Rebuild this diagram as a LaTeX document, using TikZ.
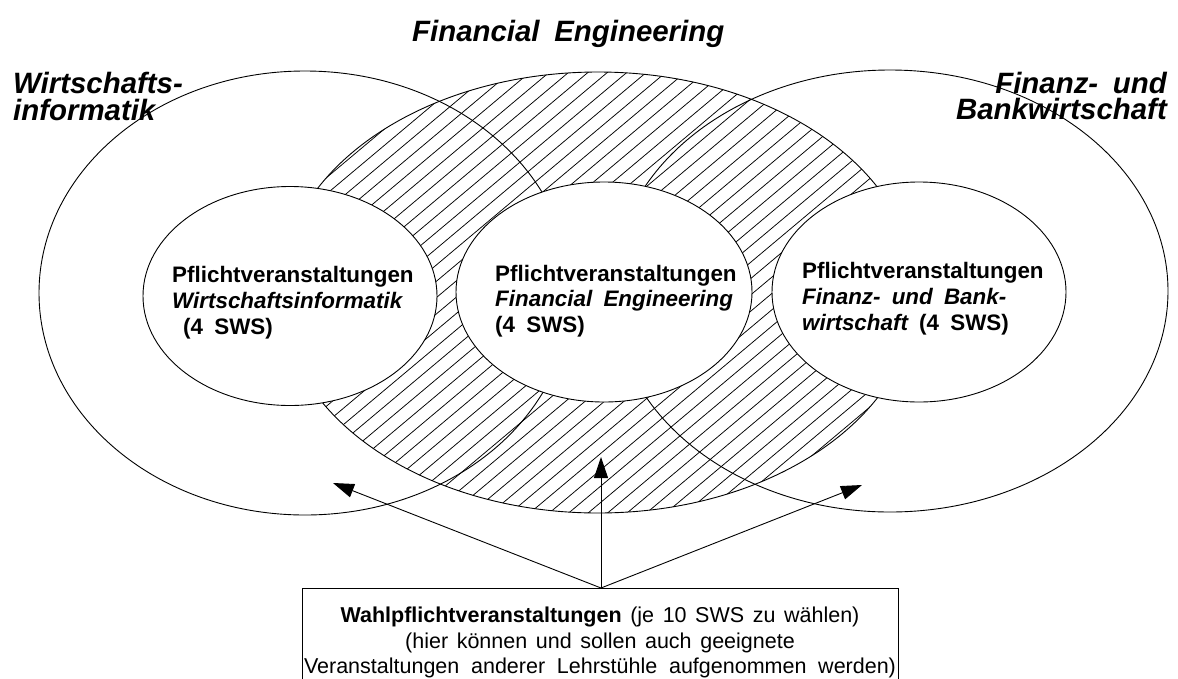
\documentclass[tikz,border=0pt]{standalone}
\usepackage{fontspec}
\setmainfont{Liberation Sans}
\usetikzlibrary{arrows.meta}
\newcommand{\fttitle}{\fontsize{29.4pt}{27pt}\selectfont\bfseries\itshape\spaceskip=0.5em\relax}
\newcommand{\ftlabel}{\fontsize{22.4pt}{26pt}\selectfont\bfseries\spaceskip=0.5em\relax}
\newcommand{\ftbox}{\fontsize{21.5pt}{26pt}\selectfont\spaceskip=0.4em plus 1em\relax}
\begin{document}
\begin{tikzpicture}[x=1pt,y=-1pt,
  ring/.style={draw=black,line width=0.9pt},
  innerring/.style={draw=black,fill=white,line width=0.9pt},
  hatch/.style={line width=0.75pt},
  titletext/.style={font=\fttitle, inner sep=0pt},
  labeltext/.style={font=\ftlabel, inner sep=0pt, anchor=base west},
  boxtext/.style={font=\ftbox, inner sep=0pt, anchor=base},
  pointer/.style={line width=0.9pt,-{Triangle[length=21pt,width=14pt]}},
  framebox/.style={draw=black,line width=0.9pt,minimum width=596pt,minimum height=130pt,inner sep=0pt,anchor=north}
]
\useasboundingbox (0,0) rectangle (1178,678);

% hatching of the central ellipse
\begin{scope}
  \clip (598,292.5) ellipse [x radius=318pt, y radius=220.5pt];
  \foreach \k in {-34,...,34} {
    \pgfmathsetmacro{\px}{598+\k*12.5*0.643-500*0.766}
    \pgfmathsetmacro{\py}{292.5+\k*12.5*0.766+500*0.643}
    \draw[hatch] (\px,\py) -- ++(766,-643);
  }
\end{scope}

% big ellipses
\draw[ring] (598,292.5) ellipse [x radius=318pt, y radius=220.5pt];
\draw[ring] (305,293) ellipse [x radius=266pt, y radius=222pt];
\draw[ring] (890,291) ellipse [x radius=278pt, y radius=221pt];

% inner ellipses
\draw[innerring] (290,296) ellipse [x radius=147pt, y radius=109.5pt];
\draw[innerring] (604,292) ellipse [x radius=148pt, y radius=110pt];
\draw[innerring] (919,292) ellipse [x radius=147pt, y radius=110pt];

% titles
\node[titletext,anchor=base west] (tfe) at (412,41) {Financial Engineering};
\node[titletext,anchor=base west] (twi1) at (13,93) {Wirtschafts-};
\node[titletext,anchor=base west] (twi2) at (13,120) {informatik};
\node[titletext,anchor=base east] (tfb1) at (1167,93) {Finanz- und};
\node[titletext,anchor=base east] (tfb2) at (1167,119) {Bankwirtschaft};

% inner labels
\node[labeltext] (l1) at (172,282) {Pflichtveranstaltungen};
\node[labeltext] (l2) at (172,308) {\itshape Wirtschaftsinformatik};
\node[labeltext] (l3) at (183,334) {(4 SWS)};

\node[labeltext] (c1) at (495,281) {Pflichtveranstaltungen};
\node[labeltext] (c2) at (495,306) {\itshape Financial Engineering};
\node[labeltext] (c3) at (495,332) {(4 SWS)};

\node[labeltext] (r1) at (802,278) {Pflichtveranstaltungen};
\node[labeltext] (r2) at (802,304) {\itshape Finanz- und Bank-};
\node[labeltext] (r3) at (802,330) {{\itshape wirtschaft} (4 SWS)};

% bottom box
\node[framebox] (box) at (600,588) {};
\node[boxtext] (b1) at (600,622) {\textbf{Wahlpflichtveranstaltungen} (je 10 SWS zu wählen)};
\node[boxtext] (b2) at (600,648) {(hier können und sollen auch geeignete};
\node[boxtext] (b3) at (600,673) {\makebox[592pt][s]{Veranstaltungen anderer Lehrstühle aufgenommen werden)}};

% arrows
\coordinate (tipL) at (333,483);
\coordinate (tipC) at (601,457);
\coordinate (tipR) at (862,485);
\coordinate (src) at (601,588);
\draw[pointer] (src) -- (tipL);
\draw[pointer] (src) -- (tipC);
\draw[pointer] (src) -- (tipR);
\end{tikzpicture}
\end{document}
